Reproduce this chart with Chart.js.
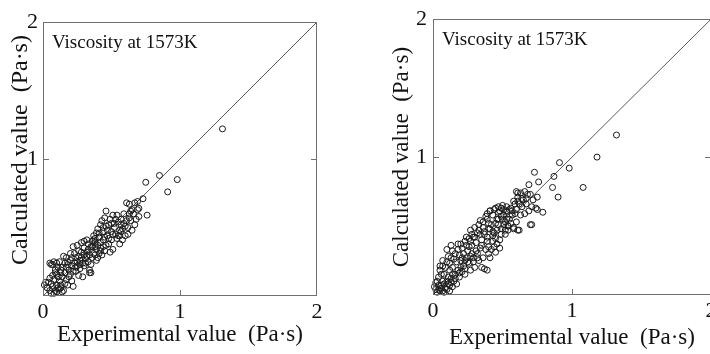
<!DOCTYPE html>
<html><head><meta charset="utf-8">
<script src="https://cdn.jsdelivr.net/npm/chart.js@4"></script>
<style>
html,body{margin:0;padding:0;background:#fff;overflow:hidden;width:710px;height:354px;}
#c1{position:absolute;left:0;top:0;}
#c2{position:absolute;left:355px;top:0;}
</style></head><body>
<canvas id="c1" width="355" height="354"></canvas>
<canvas id="c2" width="370" height="354"></canvas>
<script>
// ---- data (experimental, calculated) ----
const axisTicks = [0, 1, 2];
const innerTickValues = [1];
const diagonal = [0, 2];
const xTitle = 'Experimental value  (Pa\u00b7s)';
const yTitle = 'Calculated value  (Pa\u00b7s)';
const panelNote = 'Viscosity at 1573K';

const leftPoints = [
 [1.31,1.22],[0.85,0.88],[0.98,0.85],[0.91,0.76],[0.75,0.83],[0.73,0.71],[0.76,0.59],
 [0.61,0.68],[0.63,0.67],[0.64,0.62],[0.69,0.63],[0.70,0.58],[0.68,0.56],[0.67,0.52],[0.65,0.48],[0.62,0.45],
 [0.61,0.55],[0.59,0.60],[0.57,0.52],[0.56,0.48],[0.53,0.56],[0.51,0.59],[0.49,0.56],[0.46,0.62],[0.46,0.51],
 [0.44,0.47],[0.42,0.52],[0.41,0.43],[0.44,0.41],[0.48,0.38],[0.51,0.34],[0.49,0.32],[0.56,0.38],[0.54,0.42],
 [0.58,0.41],[0.60,0.44],[0.67,0.68],[0.69,0.69],[0.70,0.64],[0.66,0.60],[0.63,0.57],[0.60,0.51],[0.57,0.47],
 [0.55,0.54],[0.52,0.50],[0.50,0.47],[0.48,0.52],[0.47,0.44],[0.45,0.57],[0.43,0.55],[0.40,0.49],[0.39,0.46],
 [0.37,0.44],[0.36,0.40],[0.38,0.39],[0.40,0.37],[0.42,0.35],[0.45,0.33],[0.43,0.30],[0.46,0.37],[0.50,0.41],
 [0.53,0.45],[0.55,0.44],[0.58,0.49],[0.62,0.50],[0.64,0.55],[0.47,0.48],[0.52,0.53],[0.35,0.36],
 [0.39,0.34],[0.36,0.36],[0.37,0.41],[0.33,0.34],[0.32,0.29],[0.29,0.24],[0.27,0.26],[0.24,0.21],[0.23,0.31],
 [0.20,0.26],[0.17,0.21],[0.15,0.29],[0.13,0.17],[0.10,0.24],[0.07,0.23],[0.06,0.23],[0.09,0.19],[0.11,0.14],
 [0.05,0.13],[0.02,0.10],[0.01,0.08],[0.03,0.06],[0.05,0.04],[0.07,0.07],[0.10,0.08],[0.13,0.08],[0.15,0.04],
 [0.09,0.04],[0.11,0.06],[0.17,0.12],[0.22,0.18],[0.26,0.15],[0.29,0.14],[0.34,0.17],[0.35,0.23],[0.39,0.26],
 [0.41,0.31],[0.40,0.28],[0.34,0.19],[0.19,0.14],[0.21,0.11],[0.22,0.07],
 [0.30,0.30],[0.28,0.32],[0.26,0.29],[0.25,0.25],[0.31,0.27],[0.33,0.25],[0.27,0.20],[0.24,0.18],[0.21,0.22],
 [0.19,0.19],[0.18,0.25],[0.16,0.17],[0.14,0.14],[0.12,0.11],[0.14,0.21],[0.12,0.25],[0.05,0.24],[0.08,0.25],
 [0.10,0.16],[0.08,0.12],[0.06,0.09],[0.04,0.10],[0.12,0.05],[0.14,0.03],[0.10,0.03],[0.08,0.02],[0.06,0.02],
 [0.13,0.06],[0.16,0.09],[0.18,0.08],[0.20,0.16],[0.23,0.24],[0.25,0.22],[0.28,0.28],[0.30,0.22],[0.32,0.32],
 [0.34,0.30],[0.37,0.31],[0.38,0.36],[0.42,0.39],[0.44,0.36],[0.36,0.28],[0.35,0.17],
 [0.22,0.36],[0.25,0.37],[0.28,0.39],[0.30,0.35],[0.20,0.31],[0.17,0.28],[0.26,0.33],[0.32,0.41],[0.30,0.40],
 [0.33,0.38],[0.24,0.28],[0.21,0.28],[0.18,0.23],[0.16,0.24],[0.13,0.19],[0.11,0.21],[0.09,0.17],[0.07,0.15],
 [0.31,0.24],[0.27,0.23],[0.38,0.30],[0.42,0.33],[0.48,0.42],[0.51,0.45],[0.45,0.43],[0.57,0.56],[0.59,0.53],
 [0.63,0.60],[0.65,0.63],[0.54,0.59],[0.50,0.53],[0.44,0.50],[0.41,0.46],[0.38,0.42],[0.56,0.44]
];

const rightPoints = [
 [1.32,1.16],[1.18,1.00],[1.08,0.78],[0.98,0.92],[0.91,0.96],[0.87,0.86],[0.86,0.78],[0.90,0.71],
 [0.73,0.89],[0.76,0.82],[0.69,0.80],[0.75,0.71],[0.79,0.60],[0.75,0.62],[0.71,0.51],[0.62,0.47],[0.61,0.74],[0.70,0.73],
 [0.60,0.75],[0.63,0.74],[0.66,0.75],[0.61,0.71],[0.64,0.70],[0.61,0.68],[0.67,0.70],[0.59,0.66],
 [0.45,0.63],[0.47,0.64],[0.49,0.63],[0.51,0.62],[0.53,0.61],[0.47,0.60],[0.41,0.61],[0.39,0.55],
 [0.71,0.64],[0.74,0.63],[0.69,0.61],[0.66,0.59],[0.63,0.58],[0.70,0.51],[0.60,0.53],[0.57,0.58],[0.53,0.55],
 [0.51,0.58],[0.52,0.53],[0.47,0.55],[0.45,0.52],[0.54,0.50],[0.49,0.48],[0.43,0.46],[0.41,0.48],[0.40,0.52],
 [0.37,0.46],[0.58,0.48],[0.39,0.42],[0.43,0.39],
 [0.39,0.59],[0.41,0.61],[0.34,0.54],[0.36,0.49],[0.33,0.47],[0.29,0.42],[0.27,0.39],[0.24,0.36],[0.20,0.37],
 [0.18,0.33],[0.16,0.30],[0.13,0.27],[0.10,0.24],[0.07,0.21],[0.05,0.18],[0.04,0.13],[0.02,0.09],[0.01,0.06],
 [0.02,0.04],[0.05,0.03],[0.08,0.02],[0.12,0.03],[0.14,0.06],[0.17,0.08],[0.13,0.09],[0.19,0.13],[0.23,0.15],
 [0.27,0.18],[0.30,0.20],[0.35,0.20],[0.39,0.18],[0.33,0.25],[0.36,0.27],[0.40,0.30],[0.42,0.33],[0.46,0.37],
 [0.48,0.40],[0.52,0.44],[0.54,0.47],[0.58,0.49],[0.61,0.47],[0.48,0.34],[0.45,0.31],[0.41,0.27],[0.29,0.27],
 [0.25,0.24],[0.22,0.21],[0.18,0.18],[0.14,0.15],[0.11,0.13],[0.07,0.10],[0.06,0.07],[0.17,0.24],[0.14,0.20],
 [0.12,0.18],[0.08,0.15],[0.22,0.30],[0.25,0.32],[0.28,0.36],[0.31,0.38],[0.35,0.40],[0.37,0.44],[0.40,0.48],
 [0.42,0.51],[0.46,0.55],[0.49,0.57],[0.53,0.60],[0.55,0.55],[0.59,0.59],[0.51,0.51],[0.54,0.50],[0.46,0.47],
 [0.43,0.43],[0.39,0.39],[0.35,0.36],[0.31,0.32],[0.28,0.30],[0.24,0.27],[0.20,0.25],
 [0.18,0.37],[0.14,0.32],[0.11,0.28],[0.07,0.25],[0.05,0.21],[0.10,0.33],[0.13,0.36],[0.24,0.42],[0.27,0.47],[0.30,0.49],
 [0.37,0.19],[0.09,0.05],[0.11,0.08],[0.04,0.07],[0.16,0.12],[0.21,0.17],[0.26,0.23],[0.32,0.30],[0.44,0.45],[0.56,0.63],[0.58,0.68],
 [0.03,0.02],[0.04,0.04],[0.06,0.05],[0.07,0.03],[0.10,0.04],[0.12,0.07],[0.08,0.08],[0.10,0.10],[0.13,0.12],
 [0.15,0.10],[0.16,0.15],[0.19,0.16],[0.20,0.20],[0.23,0.19],[0.09,0.20],[0.06,0.15],[0.03,0.10],[0.15,0.26],
 [0.12,0.23],[0.19,0.29],[0.21,0.34],[0.23,0.39],[0.26,0.41],[0.28,0.44],[0.32,0.45],[0.33,0.51],[0.36,0.53],
 [0.38,0.57],[0.43,0.58],[0.44,0.62],[0.48,0.61],[0.50,0.65],[0.53,0.64],[0.55,0.62],[0.57,0.61],[0.56,0.52],
 [0.52,0.47],[0.49,0.44],[0.45,0.41],[0.44,0.35],[0.40,0.35],[0.38,0.33],[0.34,0.34],[0.32,0.27],[0.29,0.24],
 [0.27,0.28],[0.23,0.25],[0.21,0.27],[0.26,0.35],[0.30,0.42],[0.34,0.44],[0.47,0.51],[0.50,0.55],[0.60,0.62],
 [0.62,0.66],[0.64,0.64],[0.65,0.69],[0.67,0.66],[0.72,0.69],[0.68,0.73]
];

// ---- plugin: frame, inward ticks, in-panel note ----
const framePlugin = {
  id: 'frame',
  afterDraw(chart, args, opts) {
    const ctx = chart.ctx, a = chart.chartArea;
    const xs = chart.scales.x, ys = chart.scales.y;
    ctx.save();
    ctx.strokeStyle = '#707070';
    ctx.lineWidth = 1;
    ctx.strokeRect(Math.round(a.left) + 0.5, Math.round(a.top) + 0.5,
                   Math.round(a.right - a.left) - 1, Math.round(a.bottom - a.top) - 1);
    ctx.beginPath();
    innerTickValues.forEach(v => {
      const px = Math.round(xs.getPixelForValue(v)) + 0.5;
      const py = Math.round(ys.getPixelForValue(v)) + 0.5;
      ctx.moveTo(px, a.bottom); ctx.lineTo(px, a.bottom - 6);
      ctx.moveTo(a.left, py); ctx.lineTo(a.left + 6, py);
      ctx.moveTo(a.right, py); ctx.lineTo(a.right - 6, py);
    });
    ctx.stroke();
    ctx.fillStyle = '#111';
    ctx.font = '19px "Liberation Serif"';
    ctx.textBaseline = 'middle';
    ctx.textAlign = 'left';
    ctx.fillText(opts.text, a.left + 9, a.top + 21);
    ctx.restore();
  }
};

function makeChart(id, points, g) {
  const serif = '"Liberation Serif", "Times New Roman", serif';
  new Chart(document.getElementById(id), {
    data: {
      datasets: [
        {
          type: 'scatter',
          data: points.map(p => ({x: p[0], y: p[1]})),
          pointRadius: 3,
          pointBorderWidth: 1,
          borderColor: '#1a1a1a',
          backgroundColor: 'rgba(0,0,0,0)',
          clip: false
        },
        {
          type: 'line',
          data: diagonal.map(v => ({x: v, y: v})),
          borderColor: '#5a5a5a',
          borderWidth: 1,
          pointRadius: 0,
          fill: false
        }
      ]
    },
    options: {
      responsive: false,
      animation: false,
      events: [],
      layout: { padding: { top: g.padTop, right: g.padRight, left: 0, bottom: 0 } },
      plugins: { legend: { display: false }, tooltip: { enabled: false }, frame: { text: panelNote } },
      scales: {
        x: {
          type: 'linear', min: 0, max: 2,
          afterBuildTicks: s => { s.ticks = axisTicks.map(v => ({value: v})); },
          ticks: { color: '#111', font: { family: serif, size: 22 }, padding: 3, maxRotation: 0, autoSkip: false },
          grid: { display: false, drawTicks: false },
          border: { display: false },
          title: { display: true, text: xTitle, color: '#111', font: { family: serif, size: 23 },
                   padding: { top: 0, bottom: g.xTitleBottom } },
          afterFit: s => { s.height = g.xAxisHeight; }
        },
        y: {
          type: 'linear', min: 0, max: 2,
          afterBuildTicks: s => { s.ticks = axisTicks.map(v => ({value: v})); },
          ticks: { color: '#111', font: { family: serif, size: 22 }, padding: g.yTickPad,
                   callback: v => (v === 0 ? '' : String(v)) },
          grid: { display: false, drawTicks: false },
          border: { display: false },
          title: { display: true, text: g.yLead + yTitle, color: '#111', font: { family: serif, size: g.yTitleSize },
                   padding: { top: g.yTitleLeft, bottom: 0 } },
          afterFit: s => { s.width = g.yAxisWidth; }
        }
      }
    },
    plugins: [framePlugin]
  });
}

makeChart('c1', leftPoints, { padTop: 22, padRight: 38, yAxisWidth: 43, xAxisHeight: 58, xTitleBottom: 5,
                              yTitleLeft: 6, yTitleSize: 24, yLead: '   ', yTickPad: 5 });
makeChart('c2', rightPoints, { padTop: 18, padRight: 14, yAxisWidth: 78, xAxisHeight: 59, xTitleBottom: 2,
                               yTitleLeft: 33, yTitleSize: 23, yLead: '', yTickPad: 6 });
</script>
</body></html>
